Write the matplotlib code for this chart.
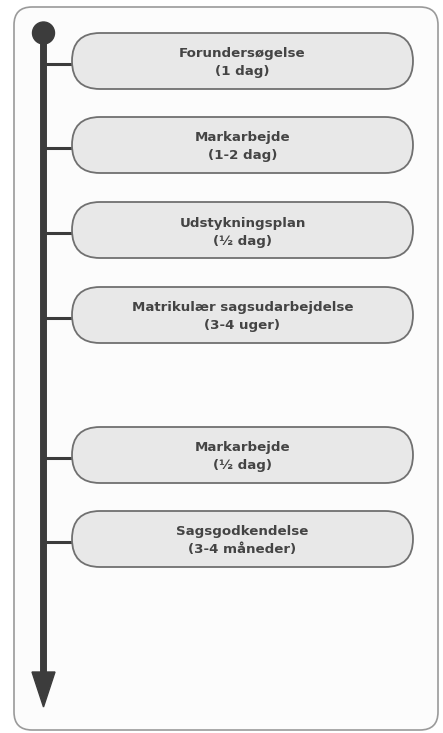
import matplotlib
matplotlib.use("Agg")
import matplotlib.pyplot as plt
from matplotlib.patches import FancyBboxPatch, Circle, Polygon

# Data
steps = ["Forundersøgelse", "Markarbejde", "Udstykningsplan",
         "Matrikulær sagsudarbejdelse", "Markarbejde", "Sagsgodkendelse"]
durations = ["(1 dag)", "(1-2 dag)", "(½ dag)", "(3-4 uger)", "(½ dag)", "(3-4 måneder)"]

# Layout (pixel coordinates)
W, H = 443, 733
box_centers = [61, 145, 230, 315, 455, 539]
box_h = 56
box_left, box_right = 72, 413
line_x = 43.5

fig = plt.figure(figsize=(W / 100, H / 100), dpi=100)
ax = fig.add_axes([0, 0, 1, 1])
ax.set_xlim(0, W)
ax.set_ylim(H, 0)
ax.axis("off")

# outer frame
frame = FancyBboxPatch((14, 7), 424, 723, boxstyle="round,pad=0,rounding_size=18",
                       facecolor="#fcfcfc", edgecolor="#9a9a9a", linewidth=1.2)
ax.add_patch(frame)

dark = "#3c3c3c"
# timeline
ax.plot([line_x, line_x], [33, 675], color=dark, linewidth=5, solid_capstyle="butt", zorder=3)
ax.add_patch(Circle((line_x, 33), 11, color=dark, zorder=4))
ax.add_patch(Polygon([[32, 672], [55, 672], [line_x, 707]], closed=True, color=dark, zorder=4))

fam = ["DejaVu Sans"]
for yc, name, dur in zip(box_centers, steps, durations):
    ax.plot([line_x, box_left], [yc + 3, yc + 3], color=dark, linewidth=2.2, zorder=2)
    box = FancyBboxPatch((box_left, yc - box_h / 2), box_right - box_left, box_h,
                         boxstyle="round,pad=0,rounding_size=28",
                         facecolor="#e8e8e8", edgecolor="#707070", linewidth=1.3, zorder=3)
    ax.add_patch(box)
    ax.text((box_left + box_right) / 2, yc - 7, name, ha="center", va="center",
            fontsize=9.6, fontweight="bold", color="#444444", family=fam, zorder=5)
    ax.text((box_left + box_right) / 2, yc + 11, dur, ha="center", va="center",
            fontsize=9.6, fontweight="bold", color="#444444", family=fam, zorder=5)

fig.savefig("out.png", dpi=100, facecolor="white")
